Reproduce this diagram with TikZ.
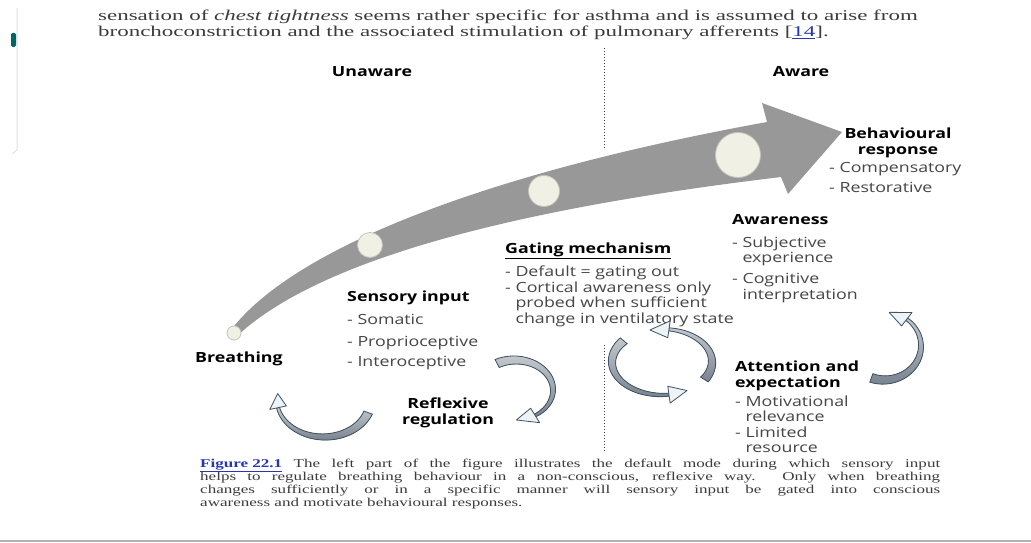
\documentclass[tikz,border=0pt]{standalone}
\usepackage{fontspec}
\setmainfont{Liberation Serif}
\newfontfamily\labelfont[FakeStretch=1.27]{Open Sans}
\newfontfamily\bodyfont[FakeStretch=1.53]{Liberation Serif}
\newfontfamily\capfont[FakeStretch=1.42]{Liberation Serif}
\usetikzlibrary{positioning,calc}

\definecolor{arrowgray}{RGB}{152,152,152}
\definecolor{beadfill}{RGB}{240,240,228}
\definecolor{beadline}{RGB}{196,196,186}
\definecolor{loopgray}{RGB}{122,132,142}
\definecolor{loopline}{RGB}{62,82,102}
\definecolor{loophead}{RGB}{238,243,246}
\definecolor{itemgray}{RGB}{70,70,70}
\definecolor{bodygray}{RGB}{60,60,60}
\definecolor{linkblue}{RGB}{40,55,175}

% curved block arrow: cx, cy, rx, ry, tail angle, neck angle, tip angle
\newcommand{\cyclearrow}[7]{%
  \filldraw[loop shaft] plot[domain=#5:#6,samples=30,variable=\t]
      ({#1+(#3+4.5-3*(\t-#5)/(#6-#5))*cos(\t)},{#2+(#4+4.5-3*(\t-#5)/(#6-#5))*sin(\t)})
    -- plot[domain=#6:#5,samples=30,variable=\t]
      ({#1+(#3-4.5+3*(\t-#5)/(#6-#5))*cos(\t)},{#2+(#4-4.5+3*(\t-#5)/(#6-#5))*sin(\t)})
    -- cycle;
  \draw[loop head] ({#1+(#3+8.5)*cos(#6)},{#2+(#4+8.5)*sin(#6)})
    -- ({#1+#3*cos(#7)},{#2+#4*sin(#7)})
    -- ({#1+(#3-8.5)*cos(#6)},{#2+(#4-8.5)*sin(#6)}) -- cycle;
}

\begin{document}
\begin{tikzpicture}[x=1pt,y=-1pt,
    label text/.style={font=\labelfont\fontsize{14}{15.5}\selectfont,text=itemgray,
                       inner sep=0pt,align=left,anchor=north west},
    head text/.style={font=\labelfont\bfseries\fontsize{14}{15.5}\selectfont,inner sep=0pt},
    body text/.style={font=\bodyfont\fontsize{15}{16}\selectfont,text=bodygray,
                      inner sep=0pt,anchor=base west},
    caption text/.style={font=\capfont\fontsize{12}{13}\selectfont,text=bodygray,
                         inner sep=0pt,anchor=base west},
    bead/.style={circle,fill=beadfill,draw=beadline,line width=0.8pt,inner sep=0pt},
    big arrow/.style={fill=arrowgray},
    loop shaft/.style={draw=loopline,line width=0.8pt,top color=loopgray!45,bottom color=loopgray},
    loop head/.style={draw=loopline,line width=0.8pt,fill=loophead,line join=round},
    divider/.style={dotted,line width=1pt,draw=black!75}
  ]
  \useasboundingbox[fill=white] (0,0) rectangle (1031,543);

  % page edge
  \draw[black!12,line width=1pt] (17,8) -- (17,150) -- (12,154);
  \fill[teal!80!black,rounded corners=1.5pt] (11,33) rectangle (16,47);
  \draw[black!30,line width=1.2pt] (0,541) -- (1031,541);

  \node[body text] (txt1) at (98,21) {sensation of \textit{chest tightness} seems rather specific for asthma and is assumed to arise from};
  \node[body text] (txt2) at (98,37) {bronchoconstriction and the associated stimulation of pulmonary afferents [\textcolor{linkblue}{\underline{14}}].};

  \draw[divider] (604,48) -- (604,150);
  \draw[divider] (604,345) -- (604,452);

  \node[head text] (unaware) at (372,72) {Unaware};
  \node[head text] (aware) at (801,72) {Aware};

  \fill[big arrow] (231,330) .. controls (292,250) and (480,174) .. (767,122)
    -- (762,103) -- (842,132) -- (788,194) -- (781,177)
    .. controls (480,213) and (310,268) .. (237,336) -- cycle;

  \node[bead,minimum size=14pt] (b0) at (234,333) {};
  \node[bead,minimum size=25pt] (b1) at (370,245) {};
  \node[bead,minimum size=31pt] (b2) at (544,191) {};
  \node[bead,minimum size=45pt] (b3) at (738,155) {};

  \node[head text,anchor=base west] (breathing) at (195,362) {Breathing};
  \node[label text] (sensory) at (347,291) {\textbf{\color{black}Sensory input}\\[7.5pt]
    - Somatic\\[6.5pt]- Proprioceptive\\[4.5pt]- Interoceptive};
  \node[head text,align=center] (reflexive) at (448,413) {Reflexive\\regulation};
  \node[label text] (gating) at (505,243) {\textbf{\color{black}\underline{Gating mechanism}}\\[6pt]
    - Default = gating out\\- Cortical awareness only\\\phantom{- }probed when sufficient\\\phantom{- }change in ventilatory state};
  \node[label text] (awareness) at (732,214) {\textbf{\color{black}Awareness}\\[7.5pt]
    - Subjective\\\phantom{- }experience\\[5.5pt]- Cognitive\\\phantom{- }interpretation};
  \node[head text,align=center] (behav) at (898,143) {Behavioural\\response};
  \node[label text] (behavitems) at (829,162) {- Compensatory\\[4.5pt]- Restorative};
  \node[label text,font=\labelfont\fontsize{14}{15.6}\selectfont] (attention) at (735,361)
    {\textbf{\color{black}Attention and}\\\textbf{\color{black}expectation}\\[3pt]
    - Motivational\\\phantom{- }relevance\\- Limited\\\phantom{- }resource};

  \cyclearrow{324}{400}{47}{37}{20}{168}{190}
  \cyclearrow{515}{390}{38}{30}{-118}{58}{88}
  \cyclearrow{662}{362}{50}{33}{32}{-82}{-104}
  \cyclearrow{662}{362}{50}{33}{220}{82}{60}
  \cyclearrow{884}{346}{37}{34}{110}{-52}{-82}

  \node[caption text] (cap1) at (200,467) {\makebox[740pt][s]{\textcolor{linkblue}{\textbf{\underline{Figure 22.1}}} The left part of the figure illustrates the default mode during which sensory input}};
  \node[caption text] (cap2) at (200,480) {\makebox[740pt][s]{helps to regulate breathing behaviour in a non-conscious, reflexive way. Only when breathing}};
  \node[caption text] (cap3) at (200,493) {\makebox[740pt][s]{changes sufficiently or in a specific manner will sensory input be gated into conscious}};
  \node[caption text] (cap4) at (200,506) {awareness and motivate behavioural responses.};
\end{tikzpicture}
\end{document}
